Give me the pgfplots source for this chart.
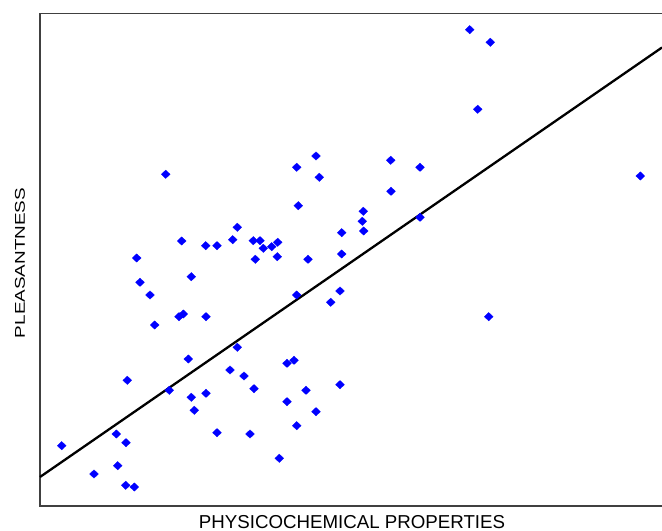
\documentclass[border=0pt]{standalone}
\usepackage{pgfplots}
\pgfplotsset{compat=1.18}
\usepackage{fontspec}
\setmainfont{Liberation Sans}
\begin{document}
\begin{tikzpicture}[x=1bp,y=1bp]
\path[use as bounding box] (0,0) rectangle (662,531);
\begin{axis}[
  at={(40bp,25bp)}, anchor=south west,
  scale only axis, width=625bp, height=492.7bp,
  xmin=40, xmax=665, ymin=25, ymax=517.7,
  xtick=\empty, ytick=\empty,
  axis line style={draw=black!75, line width=1.3bp},
  clip=false,
]
\addplot[only marks, mark=diamond*, mark size=4.2bp, color=blue,
  mark options={xscale=1.4, fill=blue, draw=blue, line width=0.3bp}]
  table[x=px, y expr=531-\thisrow{py}] {
px py
165.7 174.3
316 156
296.7 167.3
319.3 177.3
298.3 205.7
237.3 227.3
181.7 241
205.7 245.7
217 245.7
232.7 239.7
253.3 240.7
260 240.7
263.3 248.3
271.7 246.7
277.7 242.3
136.7 258
255.3 259.3
277.3 256.7
308 259.3
341.7 232.7
341.7 254
363.3 211.3
362.3 221.3
363.7 231
469.7 29.7
490.3 42.3
477.7 109.3
390.7 160.3
420 167.3
391 191.3
640.3 176
420 217.3
191.3 276.7
140 282.3
150 295
296.7 295
340 291
330.7 302.3
179 316.7
183.3 314
206 316.7
154.7 325
237.3 347.3
188.3 359
127.3 380.3
230 370
244 376
254 388.7
287 363.3
294 360.3
169.3 390.3
191.3 397.3
206 393.3
194.3 410.3
306 390.3
340 384.7
287 401.7
316 411.7
296.7 425.7
217 432.7
250 434
279.3 458.3
61.7 445.7
116.3 434
126 442.7
94 474
117.7 465.7
125.7 485.3
134.3 487
488.7 316.7
};
\addplot[black, line width=2.3bp, no marks] table[x=px, y expr=531-\thisrow{py}] {
px py
40 477
662 47.5
};
\end{axis}
\node at (352bp,9bp) {\fontsize{18.7bp}{22bp}\selectfont PHYSICOCHEMICAL PROPERTIES};
\node at (20bp,268bp) {\rotatebox{90}{\scalebox{1}[0.75]{\fontsize{18.9bp}{22bp}\selectfont PLEASANTNESS}}};
\end{tikzpicture}
\end{document}
